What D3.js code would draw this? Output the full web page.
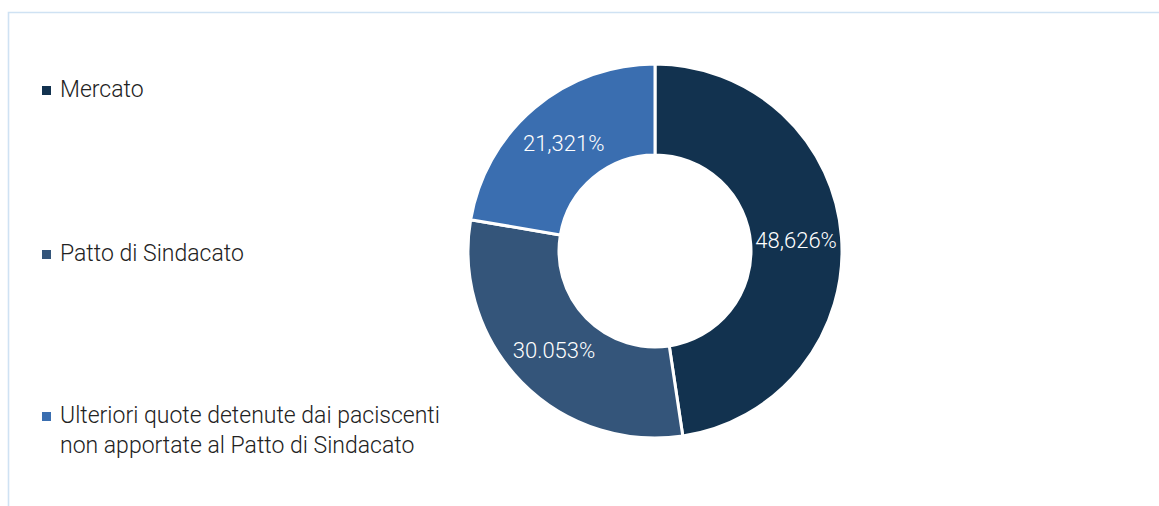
<!DOCTYPE html>
<html>
<head>
<meta charset="utf-8">
<script src="https://cdn.jsdelivr.net/npm/d3@7"></script>
<style>
  html, body { margin: 0; padding: 0; background: #fff; }
  svg { display: block; }
</style>
</head>
<body>
<svg id="chart" width="1159" height="506"></svg>
<script>
const categories = ["Mercato", "Patto di Sindacato", "Ulteriori quote detenute dai paciscenti non apportate al Patto di Sindacato"];
const legendLines = [["Mercato"], ["Patto di Sindacato"], ["Ulteriori quote detenute dai paciscenti", "non apportate al Patto di Sindacato"]];
// slice sizes as drawn in the picture
const values = [47.626, 30.053, 22.321];
// label text as printed on the picture
const valueLabels = ["48,626%", "30.053%", "21,321%"];
const colors = ["#12324f", "#34557a", "#3a6eb0"];

const svg = d3.select("#chart");
const W = 1159, H = 506;

// frame
svg.append("path")
  .attr("d", `M8.5,${H} L8.5,12.5 L${W},12.5`)
  .attr("fill", "none")
  .attr("stroke", "#cfe2f3")
  .attr("stroke-width", 1.6);

const cx = 655, cy = 251, outerR = 187, innerR = 96;

const pie = d3.pie().sort(null).value(d => d);
const arcs = pie(values);
const arc = d3.arc().innerRadius(innerR).outerRadius(outerR);

const g = svg.append("g").attr("transform", `translate(${cx},${cy})`);
g.selectAll("path.slice")
  .data(arcs)
  .join("path")
  .attr("class", "slice")
  .attr("d", arc)
  .attr("fill", (d, i) => colors[i])
  .attr("stroke", "#fff")
  .attr("stroke-width", 3)
  .attr("stroke-linejoin", "miter");

g.selectAll("text.lbl")
  .data(arcs)
  .join("text")
  .attr("class", "lbl")
  .attr("transform", d => `translate(${arc.centroid(d)})`)
  .attr("text-anchor", "middle")
  .attr("dy", "0.35em")
  .attr("fill", "#fff")
  .style("font-family", "Roboto, 'Open Sans', sans-serif")
  .style("font-weight", 300)
  .style("font-size", "22px")
  .text((d, i) => valueLabels[i]);

// legend
const legendY = [97, 261, 423];
const leg = svg.append("g");
legendLines.forEach((lines, i) => {
  const y = legendY[i];
  leg.append("rect")
    .attr("x", 42).attr("y", y - 11)
    .attr("width", 9).attr("height", 9)
    .attr("fill", colors[i]);
  const t = leg.append("text")
    .attr("x", 60).attr("y", y)
    .attr("fill", "#222")
    .style("font-family", "Roboto, 'Open Sans', sans-serif")
    .style("font-weight", 300)
    .style("font-size", "23px");
  lines.forEach((ln, j) => {
    t.append("tspan").attr("x", 60).attr("y", y + j * 30).text(ln);
  });
});
</script>
</body>
</html>
